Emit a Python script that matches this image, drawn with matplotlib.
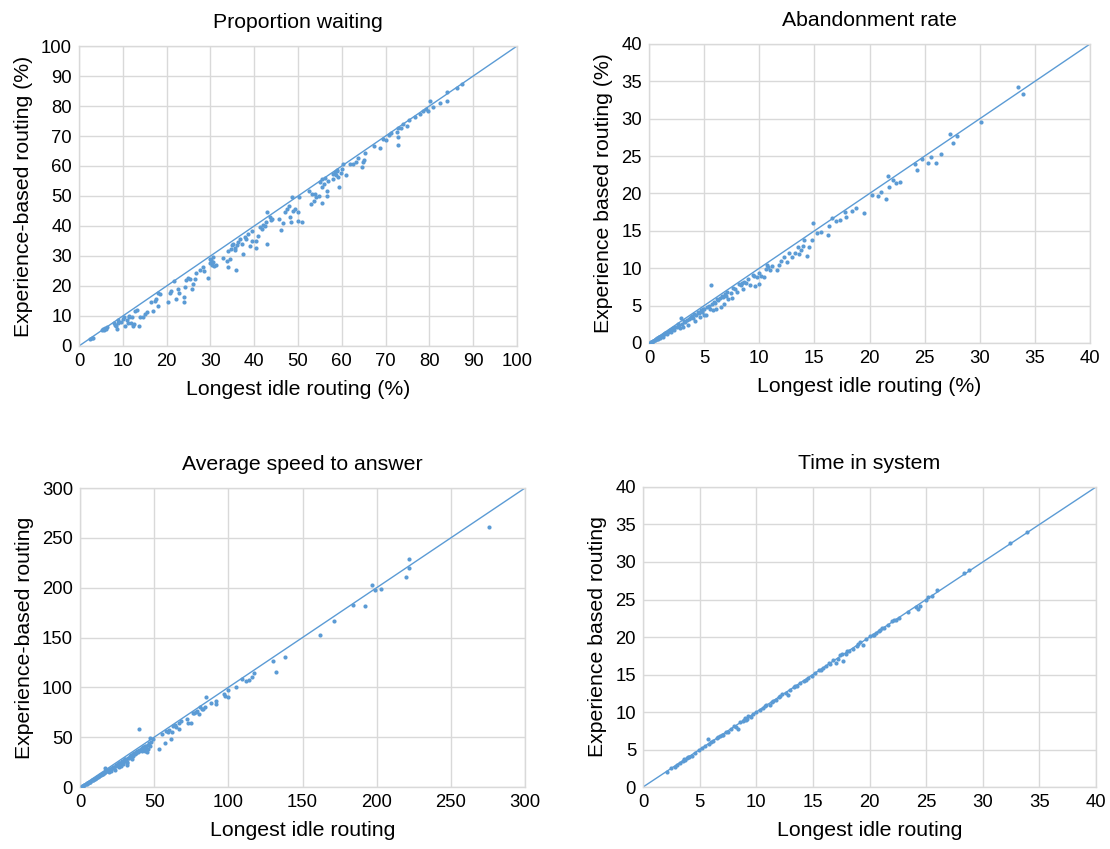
import matplotlib
matplotlib.use("Agg")
import matplotlib.pyplot as plt

plt.rcParams['font.family'] = ['Liberation Sans', 'DejaVu Sans']

BLUE = "#5b9bd5"
GRID = "#d9d9d9"

# ---------------- Panel 1: Proportion waiting ----------------
pw_x = [2.5, 3.0, 3.3, 5.2, 5.5, 5.8, 6.0, 6.2, 5.6, 6.3,
        8.0, 8.3, 8.5, 8.8, 9.0, 8.6, 9.5, 10.0, 10.2, 10.5, 11.0, 11.3, 11.5, 11.8, 11.2,
        12.0, 12.3, 12.5, 12.8, 13.3, 13.7, 14.0, 14.5, 15.0, 15.5, 16.5, 17.0, 17.5, 18.0,
        18.0, 18.5, 17.3,
        20.4, 20.8, 21.1, 21.7, 22.1, 22.7, 22.9, 24.0, 24.0, 24.2, 24.4, 24.8, 25.3, 25.9,
        26.1, 26.5, 26.8, 27.6, 28.2, 28.5, 29.5, 29.9, 30.0, 30.5, 30.9, 31.3, 30.3,
        32.9, 33.7, 33.9, 34.4, 34.0, 34.8, 35.2, 35.8, 35.6, 36.3, 36.7, 37.1, 37.5, 37.9,
        38.6, 39.0, 39.4, 39.6, 40.4, 40.5, 40.9, 41.3, 41.7, 42.4, 42.8, 43.0, 43.0, 43.5,
        44.0, 45.7, 46.1, 46.5, 47.0, 47.4, 48.0, 48.1, 48.5, 48.7, 48.9, 49.3, 49.9, 50.0,
        50.3, 51.0,
        52.5, 52.9, 53.1, 53.7, 53.8, 54.2, 54.8, 55.4, 55.5, 55.4, 56.1, 56.5, 56.6, 55.9,
        57.9, 58.0, 58.4, 58.8, 59.2, 59.4, 59.7, 60.0, 60.2, 60.9, 61.8, 62.6, 63.2, 63.7,
        64.7, 65.0, 65.2, 64.9,
        67.3, 68.8, 69.4, 70.0, 70.8, 71.3, 72.6, 72.8, 72.8, 72.8, 73.6, 74.0, 74.9, 75.4,
        76.6, 77.8, 78.6, 79.3, 79.7, 80.2, 80.8, 82.3, 83.9, 84.0, 86.2, 87.5,
        35.0, 35.5, 36.0, 38.2, 42.0, 43.8, 30.2, 30.7, 55.0, 56.8, 58.6, 59.0]
pw_y = [2.3, 2.5, 2.8, 5.3, 5.6, 5.8, 6.0, 5.5, 5.2, 6.2,
        7.5, 7.0, 6.5, 8.5, 7.8, 5.8, 8.0, 9.0, 9.5, 6.8, 8.8, 9.5, 10.0, 7.5, 7.8,
        9.8, 6.8, 7.3, 11.8, 12.0, 6.5, 9.5, 9.8, 10.5, 11.3, 14.5, 11.5, 15.5, 13.3,
        17.8, 17.2, 15.0,
        14.5, 17.8, 18.4, 21.5, 15.6, 18.9, 17.8, 16.4, 14.5, 19.5, 21.9, 22.8, 22.3, 18.9,
        20.6, 22.3, 24.2, 25.3, 26.2, 25.1, 22.8, 27.8, 29.0, 29.5, 26.7, 27.0, 27.0,
        29.3, 28.4, 26.4, 29.0, 31.7, 32.3, 34.0, 25.3, 32.8, 34.5, 35.6, 34.0, 30.6, 36.2,
        37.3, 33.4, 35.0, 38.4, 32.6, 35.0, 36.7, 39.5, 38.9, 40.1, 41.2, 34.0, 44.8, 42.9,
        42.3, 42.3, 38.6, 40.9, 44.5, 45.7, 46.8, 42.9, 41.2, 49.8, 45.1, 45.7, 44.5, 41.8,
        49.8, 41.2,
        51.8, 47.3, 50.7, 48.4, 50.7, 49.8, 50.1, 52.9, 47.5, 55.7, 56.0, 50.1, 51.8, 54.1,
        55.7, 57.3, 57.9, 58.5, 56.2, 52.9, 57.6, 59.0, 60.7, 57.0, 60.5, 60.5, 61.2, 62.7,
        59.8, 62.0, 64.3, 61.2,
        66.5, 65.9, 69.0, 68.7, 70.2, 70.9, 71.3, 72.7, 69.6, 67.1, 72.7, 74.0, 73.5, 75.2,
        76.5, 77.4, 78.3, 79.1, 78.3, 81.6, 79.8, 81.0, 84.6, 81.8, 86.1, 87.4,
        33.5, 32.0, 33.8, 35.8, 40.3, 42.0, 28.5, 28.0, 54.5, 55.0, 57.0, 58.2]

# ---------------- Panel 2: Abandonment rate ----------------
ab_x = [0.1, 0.2, 0.3, 0.4, 0.5, 0.6, 0.7, 0.8, 0.9, 1.0, 1.1, 1.2, 1.3, 1.4, 1.5, 1.6,
        1.8, 2.0, 2.1, 2.3, 2.5, 2.7, 2.8, 2.9, 3.0, 3.1, 3.3, 3.5, 3.6, 3.8, 4.0, 4.2,
        4.3, 4.5, 4.6, 4.8, 5.0, 5.0, 5.2, 5.3, 5.5, 5.6, 5.7, 5.8, 6.0, 6.1, 6.3, 6.5,
        6.7, 6.8, 7.0, 7.2, 7.4, 7.5, 7.8, 8.0, 8.3, 8.5, 8.6, 8.8, 9.0, 9.2, 9.5, 9.6,
        9.8, 10.0, 10.0, 10.2, 10.4, 10.6, 10.8, 11.0, 11.2, 11.6, 11.8, 12.0, 12.2, 12.5,
        12.7, 13.0, 13.2, 13.5, 13.6, 13.8, 14.0, 14.1, 14.3, 14.5, 14.8, 14.9, 15.2, 15.6,
        16.2, 16.3, 16.6, 17.0, 17.3, 17.8, 17.9, 18.4, 18.8, 19.5, 20.2, 20.8, 21.0, 21.5,
        21.7, 21.8, 22.1, 22.4, 22.8, 24.1, 24.3, 24.8, 25.3, 25.6, 26.0, 26.5, 27.3, 27.6,
        27.9, 30.1, 33.5, 33.9,
        0.15, 0.35, 0.55, 0.75, 0.95, 1.25, 1.45, 1.7, 1.9, 2.2, 2.4, 2.6, 3.2, 3.4, 3.7,
        3.9, 4.1, 4.4, 4.7, 4.9, 5.4, 5.9, 6.2, 6.4, 6.6, 6.9, 7.1, 7.6, 8.2, 8.4, 9.4, 10.7]
ab_y = [0.05, 0.1, 0.2, 0.3, 0.4, 0.5, 0.55, 0.6, 0.8, 0.7, 0.9, 1.0, 0.8, 1.2, 1.3, 1.2,
        1.6, 1.5, 1.9, 1.8, 2.2, 2.4, 2.0, 3.4, 2.6, 2.1, 2.8, 2.4, 3.2, 3.5, 3.3, 3.0,
        3.7, 4.0, 3.5, 4.2, 4.5, 3.8, 3.8, 4.8, 4.6, 7.8, 5.2, 4.4, 5.3, 4.5, 5.8, 4.8,
        6.2, 5.2, 6.3, 5.9, 6.7, 6.0, 7.2, 6.8, 7.8, 7.2, 8.2, 8.0, 8.5, 7.8, 9.0, 7.6,
        8.8, 9.3, 7.9, 9.0, 8.8, 9.9, 10.2, 9.8, 10.3, 9.7, 10.5, 11.0, 11.5, 10.8,
        12.0, 11.5, 12.0, 12.8, 11.9, 12.5, 13.0, 13.8, 11.6, 12.9, 13.8, 16.0, 14.7, 14.9,
        14.4, 15.7, 16.7, 16.3, 16.5, 17.5, 16.9, 17.7, 18.0, 17.4, 19.8, 19.7, 20.2, 19.3,
        22.3, 20.9, 21.8, 21.4, 21.6, 23.9, 23.2, 24.6, 24.1, 24.9, 24.1, 25.3, 28.0, 26.8,
        27.7, 29.5, 34.3, 33.3,
        0.1, 0.3, 0.45, 0.65, 0.85, 1.1, 1.35, 1.5, 1.7, 2.0, 2.1, 2.5, 2.9, 3.1, 3.4,
        3.6, 3.9, 4.1, 4.4, 4.6, 5.0, 5.5, 5.9, 6.0, 6.3, 6.5, 6.8, 7.3, 7.9, 8.0, 9.1, 10.4]

# ---------------- Panel 3: Average speed to answer ----------------
asa_x = [1, 2, 3, 4, 5, 6, 7, 8, 9, 10, 11, 12, 13, 14, 15, 16, 17, 17, 18, 19, 20, 21,
         22, 23, 24, 25, 26, 27, 28, 29, 30, 31, 32, 32, 33, 34, 35, 36, 37, 38, 39, 40,
         40, 41, 42, 43, 44, 45, 46, 47, 48, 49, 53, 55, 57, 58, 60, 61, 62, 63, 65, 67,
         67, 68, 72, 73, 75, 76, 78, 80, 81, 83, 84, 85, 88, 92, 92, 97, 98, 100, 100, 105,
         109, 112, 114, 116, 117, 130, 132, 138, 162, 171, 184, 192, 197, 199, 203, 220,
         222, 222, 276,
         2.5, 4.5, 6.5, 8.5, 10.5, 12.5, 14.5, 16.5, 18.5, 20.5, 22.5, 24.5, 26.5, 28.5,
         30.5, 33.5, 35.5, 37.5, 39.5, 42.5, 44.5, 46.5, 19.5, 23.5, 27.5, 31.5, 34.5, 44,
         5.5, 9.5, 13.5, 15.5, 21.5, 25.5, 29.5, 32.5, 36.5, 38.5, 41.5, 43.5, 45.5, 47.5,
         11.5, 18, 26, 30, 36, 41, 59, 64, 77, 79, 82]
asa_y = [0.8, 1.5, 2.5, 3, 4, 5, 5.5, 7, 7.5, 8, 9.5, 10, 11, 12, 13, 14.5, 15, 19, 16, 17,
         18, 16, 19, 20, 21, 22, 20, 24, 25, 23, 26, 27, 25, 22, 29, 30, 28, 31, 33, 34,
         35, 36, 58, 38, 36, 40, 39, 35, 42, 49, 45, 48, 38, 53, 44, 56, 57, 48, 55, 61,
         60, 58, 64, 66, 68, 64, 64, 74, 75, 73, 80, 78, 80, 90, 84, 83, 86, 93, 91, 90,
         97, 100, 108, 106, 107, 110, 114, 126, 115, 130, 153, 167, 183, 182, 203, 198,
         199, 211, 220, 229, 261,
         2, 3.5, 5.5, 7.5, 9, 11, 13, 15, 17, 18.5, 20.5, 22, 24, 26, 28, 31, 33, 35,
         37, 40, 41, 44, 15.5, 17, 21, 24, 32, 36,
         4.5, 8, 12, 13.5, 19.5, 23.5, 27.5, 29.5, 34, 36.5, 39.5, 41, 38, 41,
         10, 17.5, 24.5, 28, 33.5, 37, 55, 62, 74, 76, 78]

# ---------------- Panel 4: Time in system ----------------
tis_x = [2.1, 2.5, 2.8, 3.0, 3.3, 3.5, 3.7, 3.9, 4.1, 4.3, 4.6, 4.9, 5.2, 5.5, 5.7, 5.8,
         6.0, 6.2, 6.5, 6.8, 7.0, 7.3, 7.5, 7.8, 8.0, 8.2, 8.4, 8.6, 8.8, 9.0, 9.1, 9.3,
         9.5, 9.7, 10.0, 10.3, 10.6, 10.9, 11.2, 11.5, 11.7, 12.0, 12.3, 12.6, 12.8, 13.0,
         13.3, 13.6, 13.9, 14.2, 14.6, 14.9, 15.2, 15.5, 15.9, 16.2, 16.5, 16.8, 17.0, 17.2,
         17.4, 17.6, 17.7, 17.9, 18.2, 18.5, 18.9, 19.2, 19.4, 19.7, 20.0, 20.3, 20.6, 20.8,
         21.1, 21.6, 22.0, 22.3, 22.6, 23.4, 24.1, 24.3, 24.5, 25.0, 25.5, 26.0, 28.3, 28.8,
         32.4, 33.9,
         3.6, 4.0, 6.6, 7.1, 8.9, 9.2, 10.8, 11.4, 12.1, 13.4, 14.4, 15.7, 16.4, 18.0,
         19.0, 20.4, 20.9, 21.3, 22.2, 25.2]
tis_y = [2.0, 2.5, 2.7, 3.0, 3.2, 3.5, 3.6, 3.9, 4.0, 4.2, 4.6, 4.9, 5.2, 5.5, 6.4, 5.8,
         6.0, 6.1, 6.5, 6.8, 7.0, 7.3, 7.4, 7.8, 8.1, 8.0, 7.8, 8.7, 8.8, 9.2, 8.9, 9.5,
         9.4, 9.7, 10.0, 10.3, 10.6, 10.9, 11.0, 11.5, 11.6, 12.0, 12.4, 12.5, 12.3, 13.0,
         13.3, 13.5, 13.9, 14.2, 14.6, 14.8, 15.2, 15.6, 15.9, 16.2, 16.4, 16.9, 16.5, 17.1,
         17.6, 17.7, 16.8, 17.8, 18.2, 18.4, 18.8, 19.3, 18.9, 19.8, 20.1, 20.3, 20.5, 20.8,
         21.2, 21.6, 22.2, 22.3, 22.5, 23.4, 24.0, 23.7, 24.1, 25.0, 25.5, 26.2, 28.5, 28.9,
         32.5, 34.0,
         3.7, 4.0, 6.7, 7.0, 9.0, 9.1, 10.8, 11.3, 12.2, 13.5, 14.3, 15.6, 16.5, 18.1,
         19.1, 20.3, 21.0, 21.2, 22.3, 25.3]

fig = plt.figure(figsize=(11.10, 8.49), dpi=100)

panels = [
    dict(rect=[0.0712, 0.5925, 0.3946, 0.3533], x=pw_x, y=pw_y, lim=100, step=10,
         title="Proportion waiting", xlabel="Longest idle routing (%)",
         ylabel="Experience-based routing (%)"),
    dict(rect=[0.5847, 0.5960, 0.3973, 0.3522], x=ab_x, y=ab_y, lim=40, step=5,
         title="Abandonment rate", xlabel="Longest idle routing (%)",
         ylabel="Experience based routing (%)"),
    dict(rect=[0.0721, 0.0730, 0.4009, 0.3522], x=asa_x, y=asa_y, lim=300, step=50,
         title="Average speed to answer", xlabel="Longest idle routing",
         ylabel="Experience-based routing"),
    dict(rect=[0.5793, 0.0730, 0.4081, 0.3534], x=tis_x, y=tis_y, lim=40, step=5,
         title="Time in system", xlabel="Longest idle routing",
         ylabel="Experience based routing"),
]

for p in panels:
    ax = fig.add_axes(p["rect"])
    lim = p["lim"]
    ax.plot([0, lim], [0, lim], color=BLUE, lw=1.0, zorder=2)
    ax.scatter(p["x"], p["y"], s=9, color=BLUE, linewidths=0, zorder=3)
    ax.set_xlim(0, lim)
    ax.set_ylim(0, lim)
    ticks = list(range(0, lim + 1, p["step"]))
    ax.set_xticks(ticks)
    ax.set_yticks(ticks)
    ax.grid(True, color=GRID, lw=1.0, zorder=0)
    ax.set_axisbelow(True)
    for s in ax.spines.values():
        s.set_color(GRID)
        s.set_linewidth(1.0)
    ax.tick_params(length=0, labelsize=13.3, pad=5, colors="black")
    ax.set_title(p["title"], fontsize=15.3, pad=13)
    ax.set_xlabel(p["xlabel"], fontsize=15.3, labelpad=7)
    ax.set_ylabel(p["ylabel"], fontsize=15.3, labelpad=6)

fig.savefig("out.png", dpi=100)
